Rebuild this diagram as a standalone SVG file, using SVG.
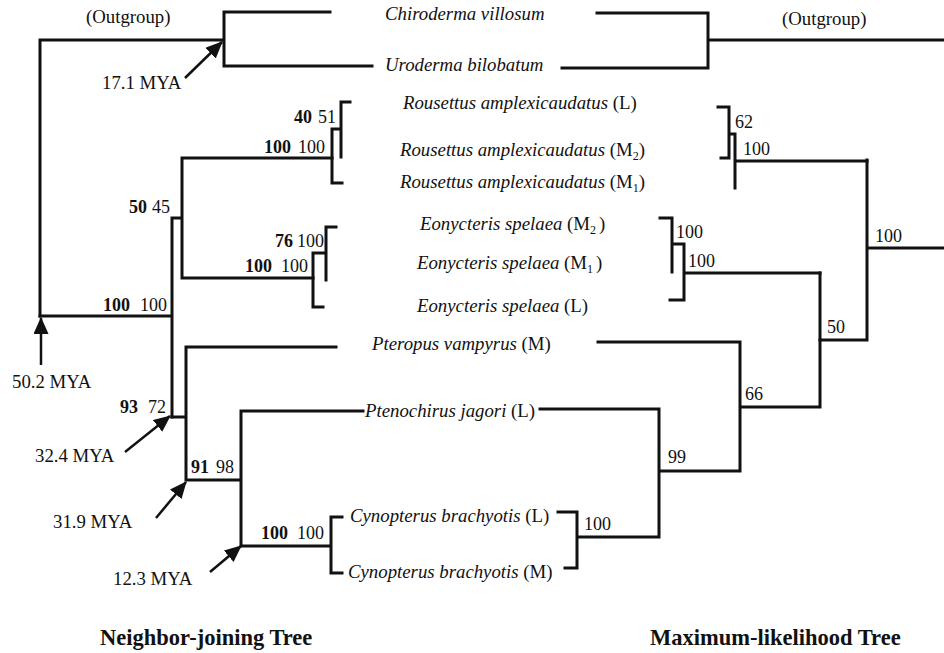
<svg xmlns="http://www.w3.org/2000/svg" width="944" height="653" viewBox="0 0 944 653" font-family="'Liberation Serif', 'Times New Roman', serif">
<style>
text{font-family:'Liberation Serif','Times New Roman',serif;font-size:18.8px;fill:#111}
.n{font-size:18px}
.sp{font-style:italic}
.r{font-style:normal}
.b{font-weight:bold}
.t{font-weight:bold;font-size:22.5px}
.sub{font-size:12px}
.br{fill:none;stroke:#111;stroke-width:3;stroke-linejoin:miter;stroke-linecap:square}
.ar{fill:none;stroke:#111;stroke-width:2.5;marker-end:url(#ah)}
</style>
<defs>
<marker id="ah" viewBox="0 0 17 15" refX="16" refY="7.5" markerWidth="17" markerHeight="15" markerUnits="userSpaceOnUse" orient="auto">
<path d="M0,0 L17,7.5 L0,15 z" fill="#111"/>
</marker>
</defs>
<rect width="944" height="653" fill="#fff"/>
<g id="connectors">
<path class="br" d="M40,316 V40 H224 M330,12 H224 V66 H372"/>
<path class="br" d="M40,316 H172 M172,218 V417 M172,218 H182 M182,158 V278 M182,158 H332 M182,278 H313"/>
<path class="br" d="M332,129 V183 H342 M332,129 H341 M341,102 V157 M341,102 H350"/>
<path class="br" d="M313,253 V307 H323 M313,253 H326 M326,227 V280 M326,227 H336"/>
<path class="br" d="M172,417 H186 M186,347 V480 M186,347 H336 M186,480 H241 M241,411 V546 M241,411 H363 M241,546 H331 M331,517 V573 M331,517 H342 M331,573 H342"/>
<path class="br" d="M597,13 H708 V68 H562 M708,40 H944"/>
<path class="br" d="M718,107 H729 V158 H721 M729,134 H735 M735,134 V188 M735,161 H867"/>
<path class="br" d="M867,160 V340 H820 M867,248 H944"/>
<path class="br" d="M660,218 H672 V272 M672,244 H684 V300 H670 M684,273 H820"/>
<path class="br" d="M820,273 V407 H740 M598,342 H740 V471 H659 M540,409 H659 V537 H577 M558,512 H577 V568 H565"/>
<line class="ar" x1="185" y1="78" x2="222" y2="42"/>
<line class="ar" x1="41" y1="365" x2="41" y2="318"/>
<line class="ar" x1="125" y1="452" x2="170" y2="416"/>
<line class="ar" x1="156" y1="518" x2="186" y2="482"/>
<line class="ar" x1="210" y1="572" x2="241" y2="546"/>
</g>
<g id="taxon-chiroderma"><text class="sp" x="385" y="20">Chiroderma villosum</text></g>
<g id="taxon-uroderma"><text class="sp" x="385" y="71">Uroderma bilobatum</text></g>
<g id="taxon-rousettus-L"><text class="sp" x="403" y="109">Rousettus amplexicaudatus <tspan class="r">(L)</tspan></text></g>
<g id="taxon-rousettus-M2"><text class="sp" x="400" y="156">Rousettus amplexicaudatus <tspan class="r">(M</tspan><tspan class="r sub" dy="4">2</tspan><tspan class="r" dy="-4">)</tspan></text></g>
<g id="taxon-rousettus-M1"><text class="sp" x="400" y="188">Rousettus amplexicaudatus <tspan class="r">(M</tspan><tspan class="r sub" dy="4">1</tspan><tspan class="r" dy="-4">)</tspan></text></g>
<g id="taxon-eonycteris-M2"><text class="sp" x="420" y="230">Eonycteris spelaea <tspan class="r">(M</tspan><tspan class="r sub" dy="4">2</tspan><tspan class="r" dx="3" dy="-4">)</tspan></text></g>
<g id="taxon-eonycteris-M1"><text class="sp" x="417" y="269">Eonycteris spelaea <tspan class="r">(M</tspan><tspan class="r sub" dy="4">1</tspan><tspan class="r" dx="3" dy="-4">)</tspan></text></g>
<g id="taxon-eonycteris-L"><text class="sp" x="417" y="312">Eonycteris spelaea <tspan class="r">(L)</tspan></text></g>
<g id="taxon-pteropus"><text class="sp" x="372" y="350">Pteropus vampyrus <tspan class="r">(M)</tspan></text></g>
<g id="taxon-ptenochirus"><text class="sp" x="365" y="417">Ptenochirus jagori <tspan class="r">(L)</tspan></text></g>
<g id="taxon-cynopterus-L"><text class="sp" x="350" y="522">Cynopterus brachyotis <tspan class="r">(L)</tspan></text></g>
<g id="taxon-cynopterus-M"><text class="sp" x="348" y="578">Cynopterus brachyotis <tspan class="r">(M)</tspan></text></g>
<g id="outgroup-labels">
<text x="86" y="23">(Outgroup)</text>
<text x="782" y="25">(Outgroup)</text>
</g>
<g id="age-labels">
<text x="102" y="89">17.1 MYA</text>
<text x="12" y="388">50.2 MYA</text>
<text x="35" y="462">32.4 MYA</text>
<text x="53" y="528">31.9 MYA</text>
<text x="113" y="585">12.3 MYA</text>
</g>
<g id="nj-support" class="n">
<text class="n b" x="294" y="123">40</text><text class="n" x="318" y="123">51</text>
<text class="n b" x="264" y="153">100</text><text class="n" x="298" y="153">100</text>
<text class="n b" x="129" y="213">50</text><text class="n" x="152" y="213">45</text>
<text class="n b" x="275" y="247">76</text><text class="n" x="297" y="247">100</text>
<text class="n b" x="245" y="272">100</text><text class="n" x="281" y="272">100</text>
<text class="n b" x="103" y="311">100</text><text class="n" x="140" y="311">100</text>
<text class="n b" x="120" y="413">93</text><text class="n" x="148" y="413">72</text>
<text class="n b" x="191" y="473">91</text><text class="n" x="216" y="473">98</text>
<text class="n b" x="261" y="539">100</text><text class="n" x="297" y="539">100</text>
</g>
<g id="ml-support">
<text class="n" x="735" y="128">62</text>
<text class="n" x="743" y="155">100</text>
<text class="n" x="875" y="242">100</text>
<text class="n" x="676" y="238">100</text>
<text class="n" x="688" y="267">100</text>
<text class="n" x="827" y="333">50</text>
<text class="n" x="745" y="400">66</text>
<text class="n" x="668" y="463">99</text>
<text class="n" x="584" y="530">100</text>
</g>
<g id="titles">
<text class="t" x="100" y="645">Neighbor-joining Tree</text>
<text class="t" x="650" y="645">Maximum-likelihood Tree</text>
</g>
</svg>
